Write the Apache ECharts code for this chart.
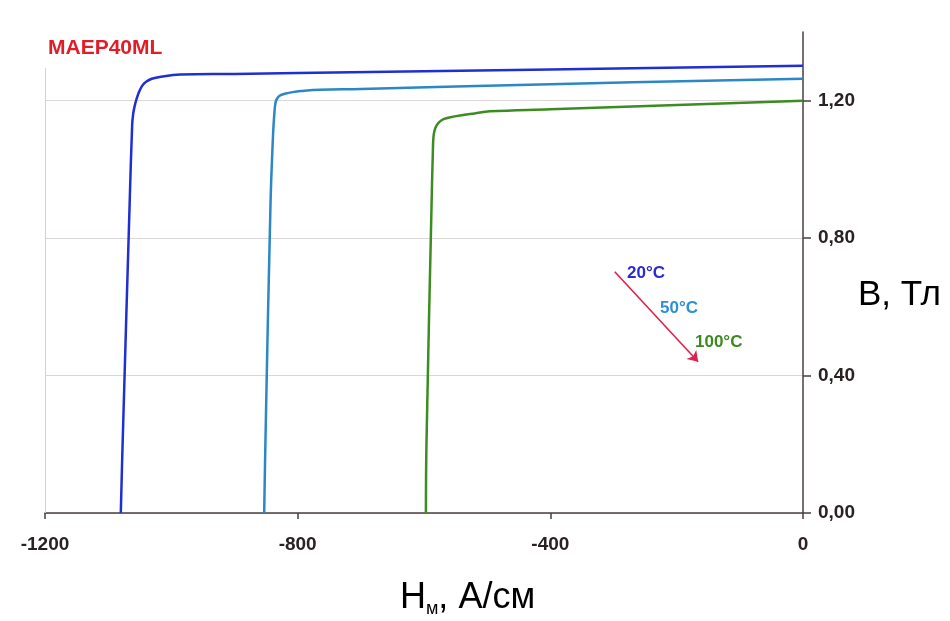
<!DOCTYPE html>
<html>
<head>
<meta charset="utf-8">
<script src="https://cdn.jsdelivr.net/npm/echarts@6/dist/echarts.min.js"></script>
<style>
  html, body { margin: 0; padding: 0; background: #fff; }
  #chart { width: 950px; height: 621px; }
</style>
</head>
<body>
<div id="chart"></div>
<script>
// кривые размагничивания MAEP40ML, точки [H, B]
const curve20 = [[-1080, 0], [-1077, 0.21], [-1066, 0.9], [-1062, 1.13], [-1060.5, 1.16], [-1058, 1.185],
  [-1055, 1.205], [-1051, 1.226], [-1046, 1.244], [-1040, 1.255], [-1031, 1.264], [-1016, 1.270],
  [-986, 1.276], [-900, 1.278], [-800, 1.281], [-400, 1.291], [0, 1.302]]
const curve50 = [[-853, 0], [-851, 0.21], [-843, 0.9], [-839, 1.1], [-837, 1.16], [-835, 1.195],
  [-832, 1.208], [-827, 1.216], [-819, 1.221], [-808, 1.225], [-795, 1.228], [-765, 1.232],
  [-700, 1.234], [-400, 1.248], [0, 1.264]]
const curve100 = [[-597, 0], [-596, 0.21], [-588, 0.9], [-586, 1.05], [-585, 1.095], [-583, 1.115],
  [-580, 1.128], [-575, 1.139], [-568, 1.147], [-558, 1.152], [-543, 1.157], [-520, 1.163],
  [-496, 1.169], [-400, 1.175], [0, 1.2]]
const yTicks = [0, 0.4, 0.8, 1.2]
const arrowLine = [[-298, 0.702], [-166, 0.44]]
const leftEdge = [[-1200, 0], [-1200, 1.295]]

const chart = echarts.init(document.getElementById('chart'))
const axisColor = '#4a3f3f'
const fontFam = '"Liberation Sans", Arial, sans-serif'
const labelFont = { fontFamily: fontFam, fontWeight: 'bold', fontSize: 19, color: '#2a2222' }

const lineSeries = (name, data, color) => ({
  name,
  type: 'line',
  data,
  smooth: 0.4,
  symbol: 'none',
  lineStyle: { color, width: 2.5 },
  z: 3
})

const option = {
  backgroundColor: '#fff',
  animation: false,
  grid: { left: 45, right: 147, top: 32, bottom: 108, outerBoundsMode: 'none' },
  xAxis: {
    type: 'value',
    min: -1200,
    max: 0,
    interval: 400,
    axisLine: { onZero: false, lineStyle: { color: axisColor, width: 1.5 } },
    axisTick: { length: 6, lineStyle: { color: axisColor, width: 1.5 } },
    axisLabel: { ...labelFont, margin: 22, formatter: v => String(v) },
    splitLine: { show: false }
  },
  yAxis: {
    type: 'value',
    position: 'right',
    min: 0,
    max: 1.4,
    interval: 0.4,
    axisLine: { show: true, onZero: false, lineStyle: { color: axisColor, width: 1.5 } },
    axisTick: { show: true, length: 8, customValues: yTicks, lineStyle: { color: axisColor, width: 1.5 } },
    axisLabel: {
      ...labelFont,
      margin: 15,
      customValues: yTicks,
      formatter: v => v.toFixed(2).replace('.', ',')
    },
    splitLine: { lineStyle: { color: '#dcd6d6', width: 1 } }
  },
  graphic: [
    { type: 'text', left: 48, top: 38, style: { text: 'MAEP40ML', fill: '#e01e2a', font: 'bold 21px ' + fontFam } },
    { type: 'text', left: 858, top: 278, style: { text: 'B, Тл', fill: '#000', font: '35px ' + fontFam } },
    {
      type: 'text', left: 400, top: 580,
      style: {
        text: '{h|H}{s|м}{h|, А/см}',
        rich: {
          h: { fontFamily: fontFam, fontSize: 36, fill: '#000' },
          s: { fontFamily: fontFam, fontSize: 18, fill: '#000', padding: [22, 0, 0, 0] }
        }
      }
    },
    { type: 'text', left: 627, top: 265, style: { text: '20°C', fill: '#2a2ad0', font: 'bold 17px ' + fontFam } },
    { type: 'text', left: 660, top: 300, style: { text: '50°C', fill: '#2f8fcf', font: 'bold 17px ' + fontFam } },
    { type: 'text', left: 695, top: 334, style: { text: '100°C', fill: '#3d8a22', font: 'bold 17px ' + fontFam } }
  ],
  series: [
    {
      ...lineSeries('20°C', curve20, '#1f2fd2'),
      markLine: {
        silent: true,
        animation: false,
        symbol: ['none', 'arrow'],
        symbolSize: 10,
        label: { show: false },
        lineStyle: { color: '#e2204c', width: 1.6, type: 'solid' },
        data: [
          [{ coord: arrowLine[0] }, { coord: arrowLine[1] }],
          [
            { coord: leftEdge[0], symbol: 'none', lineStyle: { color: '#d6d0d0', width: 1 } },
            { coord: leftEdge[1], symbol: 'none' }
          ]
        ]
      }
    },
    lineSeries('50°C', curve50, '#2b87c6'),
    lineSeries('100°C', curve100, '#3b8d21')
  ]
}

chart.setOption(option)
</script>
</body>
</html>
